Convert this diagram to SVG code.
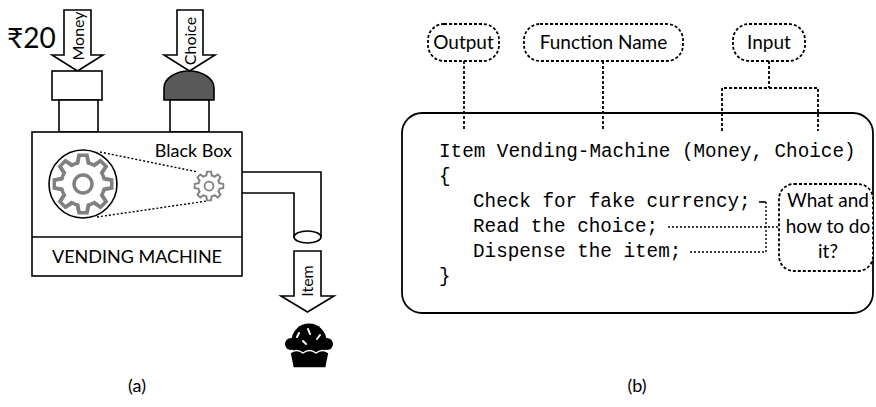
<svg xmlns="http://www.w3.org/2000/svg" xmlns:xlink="http://www.w3.org/1999/xlink" width="876" height="407" viewBox="0 0 876 407">
  <style>
    .ln { fill: none; stroke: #000; stroke-width: 1.6; }
    .box { fill: #fff; stroke: #000; stroke-width: 1.6; }
    .dash { fill: none; stroke: #000; stroke-width: 1.8; stroke-dasharray: 3 2; }
    .pill { fill: #fff; stroke: #000; stroke-width: 1.8; stroke-dasharray: 3 2; }
    .dot { fill: none; stroke: #000; stroke-width: 1.4; stroke-dasharray: 2 2; }
    .t { font-family: Lato, "Open Sans", "Noto Sans", "DejaVu Sans", sans-serif; fill: #000; }
    .code { font-family: "Liberation Mono", "DejaVu Sans Mono", monospace; font-size: 19.3px; fill: #000; }
  </style>
  <defs>
    <!-- outline gear: gray body with a white inset, plus a hub ring -->
    <polygon id="toothO" points="-7.5,-21 -5.5,-30.5 5.5,-30.5 7.5,-21" fill="#808080"/>
    <polygon id="toothI" points="-3.8,-19 -2.3,-27 2.3,-27 3.8,-19" fill="#fff"/>
    <g id="gear">
      <circle r="23.5" fill="#808080"/>
      <use xlink:href="#toothO"/>
      <use xlink:href="#toothO" transform="rotate(45)"/>
      <use xlink:href="#toothO" transform="rotate(90)"/>
      <use xlink:href="#toothO" transform="rotate(135)"/>
      <use xlink:href="#toothO" transform="rotate(180)"/>
      <use xlink:href="#toothO" transform="rotate(225)"/>
      <use xlink:href="#toothO" transform="rotate(270)"/>
      <use xlink:href="#toothO" transform="rotate(315)"/>
      <circle r="20" fill="#fff"/>
      <use xlink:href="#toothI"/>
      <use xlink:href="#toothI" transform="rotate(45)"/>
      <use xlink:href="#toothI" transform="rotate(90)"/>
      <use xlink:href="#toothI" transform="rotate(135)"/>
      <use xlink:href="#toothI" transform="rotate(180)"/>
      <use xlink:href="#toothI" transform="rotate(225)"/>
      <use xlink:href="#toothI" transform="rotate(270)"/>
      <use xlink:href="#toothI" transform="rotate(315)"/>
      <circle r="9" fill="none" stroke="#808080" stroke-width="3.5"/>
    </g>
  </defs>

  <rect width="876" height="407" fill="#fff"/>

  <!-- ===== (a) vending machine ===== -->
  <g id="money-input">
    <text class="t" x="7" y="48" font-size="28">₹20</text>
    <polygon class="box" points="64,10 91,10 91,55 103,55 77.5,71 52,55 64,55"/>
    <text class="t" font-size="16" text-anchor="middle" transform="translate(84,36) rotate(-90)">Money</text>
    <rect class="box" x="52" y="71" width="50" height="29"/>
    <rect class="box" x="59" y="100" width="39" height="32"/>
  </g>

  <g id="choice-input">
    <polygon class="box" points="177,10 203,10 203,55 215,55 189.5,71 164,55 177,55"/>
    <text class="t" font-size="16" text-anchor="middle" transform="translate(196,41) rotate(-90)">Choice</text>
    <path d="M164,100 L164,88 A25,17 0 0 1 214,88 L214,100 Z" fill="#595959" stroke="#000" stroke-width="1.6"/>
    <rect class="box" x="170" y="100" width="39" height="32"/>
  </g>

  <g id="chute">
    <path class="ln" d="M242,172 H321 V237 M242,193 H294 V237"/>
    <ellipse class="box" cx="307.5" cy="237" rx="13.5" ry="6"/>
  </g>

  <g id="machine">
    <rect class="box" x="32" y="132" width="210" height="144"/>
    <line class="ln" x1="32" y1="237" x2="242" y2="237"/>
    <text class="t" x="137" y="263" font-size="18" text-anchor="middle">VENDING MACHINE</text>
    <text class="t" x="232" y="157" font-size="18" text-anchor="end">Black Box</text>
    <circle cx="83" cy="184" r="34" fill="#fff" stroke="#000" stroke-width="1.6"/>
    <use xlink:href="#gear" transform="translate(83,184)"/>
    <use xlink:href="#gear" transform="translate(209,186) scale(0.5)"/>
    <line class="dot" x1="100" y1="152" x2="198" y2="172"/>
    <line class="dot" x1="97" y1="217" x2="207" y2="201"/>
  </g>

  <g id="item-output">
    <polygon class="box" points="294,251 321,251 321,296 334,296 307.5,312 281,296 294,296"/>
    <text class="t" font-size="16" text-anchor="middle" transform="translate(313,281) rotate(-90)">Item</text>
  </g>

  <g id="cupcake">
    <circle cx="309" cy="341" r="17.5" fill="#000"/>
    <circle cx="291" cy="344" r="6" fill="#000"/>
    <circle cx="327" cy="344" r="6" fill="#000"/>
    <circle cx="298" cy="347" r="6" fill="#000"/>
    <circle cx="309" cy="348" r="6" fill="#000"/>
    <circle cx="320" cy="347" r="6" fill="#000"/>
    <path d="M290,353 Q296.5,348 303,353 Q309.5,348 316,353 Q322.5,348 329,353 L326,368 L293,368 Z" fill="#000" stroke="#fff" stroke-width="1.5"/>
    <g stroke="#fff" stroke-width="2" stroke-linecap="round">
      <line x1="308" y1="329" x2="310" y2="334"/>
      <line x1="297" y1="337" x2="299" y2="333"/>
      <line x1="317" y1="339" x2="320" y2="335"/>
      <line x1="303" y1="341" x2="306" y2="344"/>
    </g>
  </g>

  <text class="t" x="137" y="392" font-size="18" text-anchor="middle">(a)</text>

  <!-- ===== (b) function view ===== -->
  <g id="function-body">
    <rect x="402" y="113" width="471" height="200" rx="20" fill="#fff" stroke="#000" stroke-width="1.8"/>
    <text class="code" x="439" y="157">Item Vending-Machine (Money, Choice)</text>
    <text class="code" x="439" y="182">{</text>
    <text class="code" x="473" y="207">Check for fake currency;</text>
    <text class="code" x="473" y="232">Read the choice;</text>
    <text class="code" x="473" y="257">Dispense the item;</text>
    <text class="code" x="439" y="282">}</text>
  </g>

  <g id="connectors">
    <line class="dash" x1="464" y1="61" x2="464" y2="131"/>
    <line class="dash" x1="603" y1="61" x2="603" y2="131"/>
    <path class="dash" d="M769,61 V88 M722,131 V88 H818 V131"/>
    <path d="M759,202 H766" stroke="#000" stroke-width="1.6" fill="none"/>
    <path class="dot" d="M766,202 V252 H690"/>
    <line class="dot" x1="668" y1="227" x2="779" y2="227"/>
  </g>

  <g id="output-tag">
    <rect class="pill" x="428" y="24" width="71" height="37" rx="16"/>
    <text class="t" x="463.5" y="49" font-size="19" text-anchor="middle">Output</text>
  </g>
  <g id="name-tag">
    <rect class="pill" x="524" y="24" width="159" height="37" rx="16"/>
    <text class="t" x="603.5" y="49" font-size="19" text-anchor="middle">Function Name</text>
  </g>
  <g id="input-tag">
    <rect class="pill" x="733" y="24" width="72" height="37" rx="16"/>
    <text class="t" x="769" y="49" font-size="19" text-anchor="middle">Input</text>
  </g>
  <g id="how-tag">
    <rect class="pill" x="779" y="184" width="94" height="87" rx="15"/>
    <text class="t" x="828" y="207" font-size="19" text-anchor="middle">What and</text>
    <text class="t" x="828" y="233" font-size="19" text-anchor="middle">how to do</text>
    <text class="t" x="828" y="258" font-size="19" text-anchor="middle">it?</text>
  </g>

  <text class="t" x="637" y="392" font-size="18" text-anchor="middle">(b)</text>
</svg>
